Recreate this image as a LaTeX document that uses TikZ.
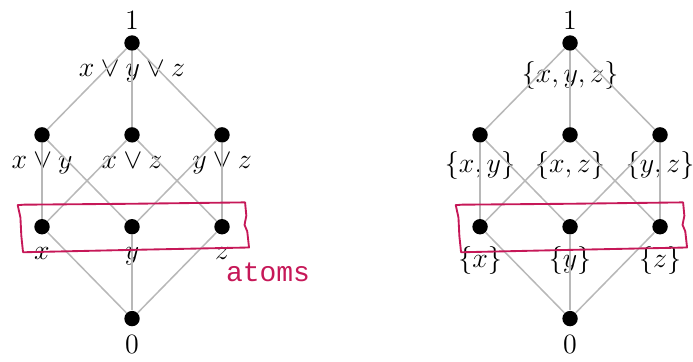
\documentclass[tikz,border=0pt]{standalone}
\usepackage{amsmath}
\usepackage{amssymb}
\usepackage{xcolor}
\usepackage{fontspec}
\newfontfamily\atomsfont{Liberation Mono}
\definecolor{handred}{RGB}{198,24,88}
\usepackage{tikz}

\begin{document}
\begin{tikzpicture}[x=38.6pt, y=39.4pt,
    every node/.style={font=\fontsize{12}{14}\selectfont},
    pt/.style={circle, fill=black, inner sep=0pt, minimum size=6.6pt},
    edge/.style={black!28, line width=0.65pt},
    hand/.style={handred, line width=0.8pt, line join=round}]
  \useasboundingbox (-1.467,-0.469) rectangle (6.233,3.468);
  \tikzset{label distance=0.8pt}

  % left: elements as joins
  \node[pt, label={[label distance=-1.3pt]above:$1$}, label={[label distance=0.6pt]below:$x \vee y \vee z$}] (t) at (0,3) {};
  \node[pt, label={below:$x \vee y$}] (xy) at (-1,2) {};
  \node[pt, label={below:$x \vee z$}] (xz) at (0,2) {};
  \node[pt, label={below:$y \vee z$}] (yz) at (1,2) {};
  \node[pt, label={[label distance=1.7pt]below:$x$}] (x) at (-1,1) {};
  \node[pt, label={[label distance=1.7pt]below:$y$}] (y) at (0,1) {};
  \node[pt, label={[label distance=1.7pt]below:$z$}] (z) at (1,1) {};
  \node[pt, label={[label distance=0pt]below:$0$}] (o) at (0,0) {};

  % right: elements as sets
  \node[pt, label={[label distance=-1.3pt]above:$1$}, label={below:$\{x,y,z\}$}] (st) at (4.867,3) {};
  \node[pt, label={[label distance=0pt]below:$\{x,y\}$}] (sxy) at (3.867,2) {};
  \node[pt, label={[label distance=0pt]below:$\{x,z\}$}] (sxz) at (4.867,2) {};
  \node[pt, label={[label distance=0pt]below:$\{y,z\}$}] (syz) at (5.867,2) {};
  \node[pt, label={[label distance=1.3pt]below:$\{x\}$}] (sx) at (3.867,1) {};
  \node[pt, label={[label distance=1.3pt]below:$\{y\}$}] (sy) at (4.867,1) {};
  \node[pt, label={[label distance=1.3pt]below:$\{z\}$}] (sz) at (5.867,1) {};
  \node[pt, label={[label distance=0pt]below:$0$}] (so) at (4.867,0) {};

  \foreach \a/\b in {t/xy, t/xz, t/yz, xy/x, xy/y, xz/x, xz/z, yz/y, yz/z, x/o, y/o, z/o} {
    \draw[edge] (\a) -- (\b);
    \draw[edge] (s\a) -- (s\b);
  }

  % hand drawn boxes round the atoms
  \foreach \s in {0,4.867}
    \draw[hand, shift={(\s,0)}] (-1.27,1.235) -- (-1.2,1.24) -- (0,1.25) -- (1.256,1.265)
      -- (1.27,1.12) -- (1.25,1.02) -- (1.28,0.95) -- (1.3,0.774) -- (0,0.748)
      -- (-1.211,0.722) -- (-1.23,0.9) -- (-1.24,1.1) -- cycle;
  \node[text=handred, font=\atomsfont\fontsize{12}{14}\selectfont] (atoms) at (1.511,0.502) {atoms};
\end{tikzpicture}
\end{document}
